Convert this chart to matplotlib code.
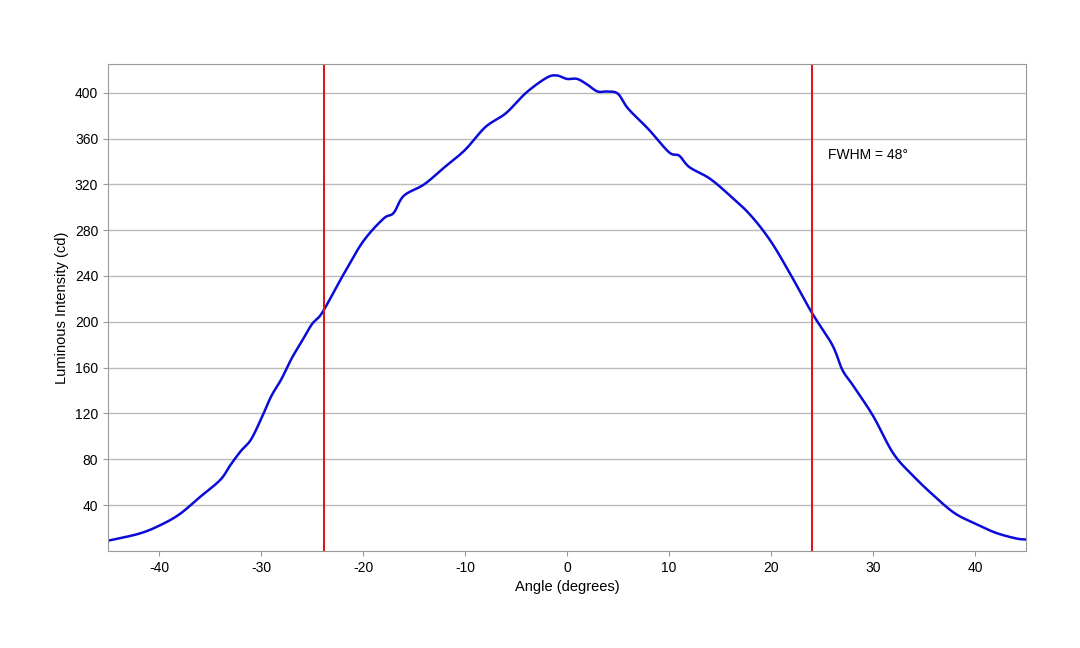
import matplotlib
matplotlib.use("Agg")
import matplotlib.pyplot as plt
import numpy as np

plt.rcParams['font.family'] = ['Liberation Sans', 'DejaVu Sans']
plt.rcParams['axes.unicode_minus'] = False

angles = [-45,-42,-40,-38,-36,-34,-33,-32,-31,-30,-29,-28,-27,-26,-25,-24,-22,-20,-18,-17,-16,-14,-12,-10,-8,-6,-4,-2,-1,0,1,2,3,4,5,6,8,10,11,12,14,16,18,20,22,24,26,27,28,30,32,34,36,38,40,42,44,45]
intensity = [9,15,22,32,47,62,75,87,97,115,135,150,168,183,198,208,240,270,290,295,310,320,335,350,370,382,400,413,415,412,412,407,401,401,399,386,368,348,345,335,325,310,293,270,240,208,180,158,145,118,85,65,48,33,24,16,11,10]
fwhm_lines = [-23.8, 24.0]
xticks = [-40,-30,-20,-10,0,10,20,30,40]
yticks = [40,80,120,160,200,240,280,320,360,400]

def catmull(x, y, n=20):
    x = np.asarray(x, float); y = np.asarray(y, float)
    px = np.concatenate([[x[0]], x, [x[-1]]]); py = np.concatenate([[y[0]], y, [y[-1]]])
    ox, oy = [], []
    for i in range(1, len(px) - 2):
        t = np.linspace(0, 1, n, endpoint=False)
        for P, out in ((px, ox), (py, oy)):
            p0, p1, p2, p3 = P[i-1], P[i], P[i+1], P[i+2]
            out.extend(0.5*((2*p1) + (-p0+p2)*t + (2*p0-5*p1+4*p2-p3)*t**2 + (-p0+3*p1-3*p2+p3)*t**3))
    ox.append(x[-1]); oy.append(y[-1])
    return ox, oy

fig = plt.figure(figsize=(10.8,6.48), dpi=100)
ax = fig.add_axes([0.1, 0.1497, 0.85, 0.7515])
sx, sy = catmull(angles, intensity)
ax.plot(sx, sy, color='#0b0bd9', lw=1.8)
for v in fwhm_lines:
    ax.axvline(v, color='#e01010', lw=1.4)
ax.text(25.6, 342, "FWHM = 48°", fontsize=10)
ax.set_xlim(-45, 45)
ax.set_ylim(0, 425)
ax.set_xticks(xticks)
ax.set_yticks(yticks)
ax.yaxis.grid(True, color='#bbbbbb', lw=1)
ax.set_axisbelow(True)
for s in ax.spines.values():
    s.set_color('#999999')
ax.tick_params(labelsize=10, color='#999999')
ax.set_xlabel("Angle (degrees)", fontsize=10.5)
ax.set_ylabel("Luminous Intensity (cd)", fontsize=10.5)
fig.savefig("out.png", dpi=100)
